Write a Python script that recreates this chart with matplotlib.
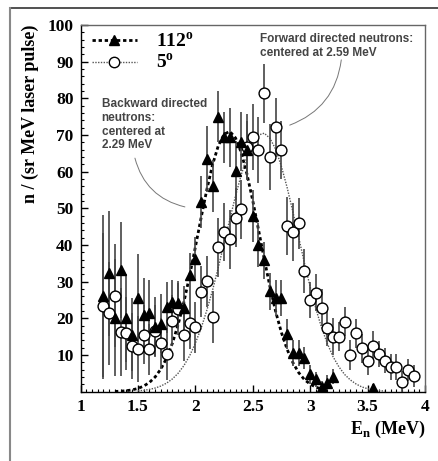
import matplotlib
matplotlib.use("Agg")
import matplotlib.pyplot as plt
import numpy as np
from matplotlib.lines import Line2D
from matplotlib.ticker import MultipleLocator

plt.rcParams['font.family'] = 'Liberation Serif'
plt.rcParams['font.weight'] = 'bold'
plt.rcParams['mathtext.fontset'] = 'custom'
plt.rcParams['mathtext.rm'] = 'Liberation Serif:bold'
plt.rcParams['mathtext.bf'] = 'Liberation Serif:bold'

# --- 112 degree detector (backward) ---
e_back = [1.20, 1.25, 1.30, 1.35, 1.40, 1.45, 1.50, 1.55, 1.60, 1.65, 1.70,
          1.75, 1.80, 1.85, 1.90, 1.95, 2.00, 2.05, 2.10, 2.15, 2.20, 2.25,
          2.30, 2.35, 2.40, 2.45, 2.50, 2.55, 2.60, 2.65, 2.70, 2.75, 2.80,
          2.85, 2.90, 2.95, 3.00, 3.05, 3.10, 3.15, 3.20, 3.55]
n_back = [26.1, 32.3, 20.2, 33.2, 20.0, 15.6, 25.6, 20.9, 21.5, 17.7, 18.6,
          23.0, 24.5, 24.3, 22.7, 31.8, 36.1, 51.7, 63.5, 56.1, 75.0, 69.4,
          69.4, 60.3, 68.2, 65.9, 47.9, 40.1, 35.8, 27.4, 25.6, 25.6, 15.7,
          10.6, 10.6, 9.1, 4.7, 3.4, 1.4, 2.5, 4.1, 1.0]
err_back = [22, 17, 16, 13, 12, 10, 12, 10, 9, 8, 8,
            7, 6, 6, 6, 6, 6, 7, 9, 7, 7, 7,
            8, 8, 8, 8, 7, 6, 5, 5, 5, 5, 4,
            3.5, 3.5, 3, 2.5, 2, 1.5, 2, 2, 1]

# --- 5 degree detector (forward) ---
e_fwd = [1.20, 1.25, 1.30, 1.35, 1.40, 1.45, 1.50, 1.55, 1.60, 1.65, 1.70,
         1.75, 1.80, 1.85, 1.90, 1.95, 2.00, 2.05, 2.10, 2.15, 2.20, 2.25,
         2.30, 2.35, 2.40, 2.45, 2.50, 2.55, 2.60, 2.65, 2.70, 2.75, 2.80,
         2.85, 2.90, 2.95, 3.00, 3.05, 3.10, 3.15, 3.20, 3.25, 3.30, 3.35,
         3.40, 3.45, 3.50, 3.55, 3.60, 3.65, 3.70, 3.75, 3.80, 3.85, 3.90]
n_fwd = [23.4, 21.4, 26.2, 16.4, 15.9, 12.5, 11.6, 15.6, 11.6, 16.6, 13.2,
         10.3, 19.4, 22.6, 15.5, 18.7, 17.6, 27.3, 30.1, 20.4, 39.4, 43.6,
         41.6, 47.5, 49.7, 66.8, 69.5, 65.9, 81.4, 63.9, 72.1, 65.9, 45.2,
         43.6, 45.9, 33.0, 25.0, 27.0, 22.9, 17.5, 15.0, 15.0, 19.1, 10.0,
         15.9, 11.8, 8.5, 12.5, 10.2, 8.5, 6.8, 6.8, 2.6, 5.9, 4.4]
err_fwd = [20, 14, 14, 12, 10, 9, 9, 8, 7, 7, 7,
           7, 7, 7, 7, 7, 7, 7, 7, 7, 8, 8,
           8, 8, 8, 9, 9, 9, 8, 9, 8, 8, 8,
           8, 7, 6, 5, 5, 5, 5, 5, 4, 4, 4,
           4, 4, 4, 4, 3.5, 3.5, 3.5, 3.5, 3, 3, 3]

# --- fitted curves ---
e_fit_back = [1.30, 1.35, 1.40, 1.45, 1.50, 1.55, 1.60, 1.65, 1.70, 1.75,
              1.80, 1.85, 1.90, 1.95, 2.00, 2.05, 2.10, 2.15, 2.20, 2.25,
              2.30, 2.35, 2.40, 2.45, 2.50, 2.55, 2.60, 2.65, 2.70, 2.75,
              2.80, 2.85, 2.90, 2.95, 3.00, 3.05, 3.10, 3.15]
n_fit_back = [0.07, 0.14, 0.28, 0.50, 0.89, 1.53, 2.52, 4.02, 6.19, 9.19,
              13.2, 18.3, 24.4, 31.6, 39.4, 47.4, 55.1, 61.9, 67.1, 70.2,
              71.0, 69.2, 65.2, 59.3, 52.1, 44.2, 36.2, 28.6, 21.8, 16.1,
              11.5, 7.9, 5.2, 3.3, 2.07, 1.24, 0.71, 0.40]
e_fit_fwd = [1.50, 1.55, 1.60, 1.65, 1.70, 1.75, 1.80, 1.85, 1.90, 1.95,
             2.00, 2.05, 2.10, 2.15, 2.20, 2.25, 2.30, 2.35, 2.40, 2.45,
             2.50, 2.55, 2.60, 2.65, 2.70, 2.75, 2.80, 2.85, 2.90, 2.95,
             3.00, 3.05, 3.10, 3.15, 3.20, 3.25, 3.30, 3.35, 3.40, 3.45,
             3.50, 3.55, 3.60, 3.65]
n_fit_fwd = [0.23, 0.38, 0.62, 1.00, 1.55, 2.35, 3.48, 5.03, 7.10, 9.78,
             13.2, 17.3, 22.2, 27.7, 33.9, 40.4, 47.0, 53.4, 59.2, 64.1,
             67.8, 70.0, 70.5, 69.1, 66.1, 61.4, 55.6, 49.0, 42.1, 35.1,
             28.6, 22.6, 17.4, 13.1, 9.5, 6.8, 4.7, 3.2, 2.1, 1.3,
             0.82, 0.50, 0.29, 0.17]

x_ticks = [1, 1.5, 2, 2.5, 3, 3.5, 4]
x_tick_labels = ['1', '1.5', '2', '2.5', '3', '3.5', '4']
y_ticks = [10, 20, 30, 40, 50, 60, 70, 80, 90, 100]

fig = plt.figure(figsize=(4.39, 4.61), dpi=100)
ax = fig.add_axes([0.1834, 0.1503, 0.7847, 0.7954])

# outer frame (cropped)
fig.add_artist(Line2D([0.0228, 1.0], [0.982, 0.982], color='#333333', lw=1.2))
fig.add_artist(Line2D([0.0228, 0.0228], [0.0, 0.982], color='#888888', lw=1.5))

# fits
ax.plot(e_fit_back, n_fit_back, color='black', lw=2.0, linestyle=(0, (1.2, 1.0)), zorder=2)
ax.plot(e_fit_fwd, n_fit_fwd, color='#555555', lw=1.0, linestyle=(0, (1, 1)), zorder=2)

# data
ax.errorbar(e_back, n_back, yerr=err_back, fmt='none', ecolor='#444444', elinewidth=1.2, zorder=3)
ax.errorbar(e_fwd, n_fwd, yerr=err_fwd, fmt='none', ecolor='#444444', elinewidth=1.2, zorder=3)
ax.plot(e_back, n_back, '^', color='black', markersize=6.5, zorder=5)
ax.plot(e_fwd, n_fwd, 'o', markerfacecolor='white', markeredgecolor='black',
        markeredgewidth=1.0, markersize=7.8, zorder=4)

# legend
h_back = Line2D([], [], color='black', lw=2.0, linestyle=(0, (1.2, 1.0)), marker='^', markersize=7)
h_fwd = Line2D([], [], color='#555555', lw=1.0, linestyle=(0, (1, 1)), marker='o',
               markerfacecolor='white', markeredgecolor='black', markersize=7.5)
ax.legend([h_back, h_fwd], ['112$^{\\rm o}$', '5$^{\\rm o}$'], loc='upper left',
          bbox_to_anchor=(0.022, 0.992), frameon=False, fontsize=14, handlelength=2.3,
          handletextpad=1.0, labelspacing=0.1, borderpad=0.2, borderaxespad=0.0)

# annotations
txt_kw = dict(family='Liberation Sans', fontweight='bold', fontsize=8.5, color='#444444',
              va='top', ha='left', linespacing=1.2)
ax.text(1.184, 80.1, 'Backward directed\nneutrons:\ncentered at\n2.29 MeV', **txt_kw)
ax.text(2.561, 97.7, 'Forward directed neutrons:\ncentered at 2.59 MeV', **txt_kw)
ax.annotate('', xy=(1.909, 50.4), xytext=(1.474, 63.7),
            arrowprops=dict(arrowstyle='-', color='#777777', lw=0.7,
                            connectionstyle='arc3,rad=0.3', shrinkA=0, shrinkB=0))
ax.annotate('', xy=(2.822, 72.7), xytext=(3.271, 90.5),
            arrowprops=dict(arrowstyle='-', color='#777777', lw=0.7,
                            connectionstyle='arc3,rad=-0.3', shrinkA=0, shrinkB=0))

ax.set_xlim(1, 4)
ax.set_ylim(0, 100)
ax.set_xticks(x_ticks)
ax.set_xticklabels(x_tick_labels)
ax.set_yticks(y_ticks)
ax.xaxis.set_minor_locator(MultipleLocator(0.05))
ax.yaxis.set_minor_locator(MultipleLocator(2))
ax.tick_params(which='major', direction='in', length=5, width=1, labelsize=12.5, pad=5)
ax.tick_params(which='minor', direction='in', length=2.5, width=0.8)
for lab in ax.get_xticklabels() + ax.get_yticklabels():
    lab.set_fontweight('bold')

for s in ['left', 'bottom']:
    ax.spines[s].set_color('black')
    ax.spines[s].set_linewidth(1.0)
for s in ['right', 'top']:
    ax.spines[s].set_color('#666666')
    ax.spines[s].set_linewidth(1.0)

ax.set_xlabel('E$_{\\rm n}$ (MeV)', fontsize=13, fontweight='bold', loc='right', labelpad=3)
ax.set_ylabel('n / (sr MeV laser pulse)', fontsize=13, fontweight='bold', loc='top', labelpad=6)

fig.savefig('out.png', dpi=100)
